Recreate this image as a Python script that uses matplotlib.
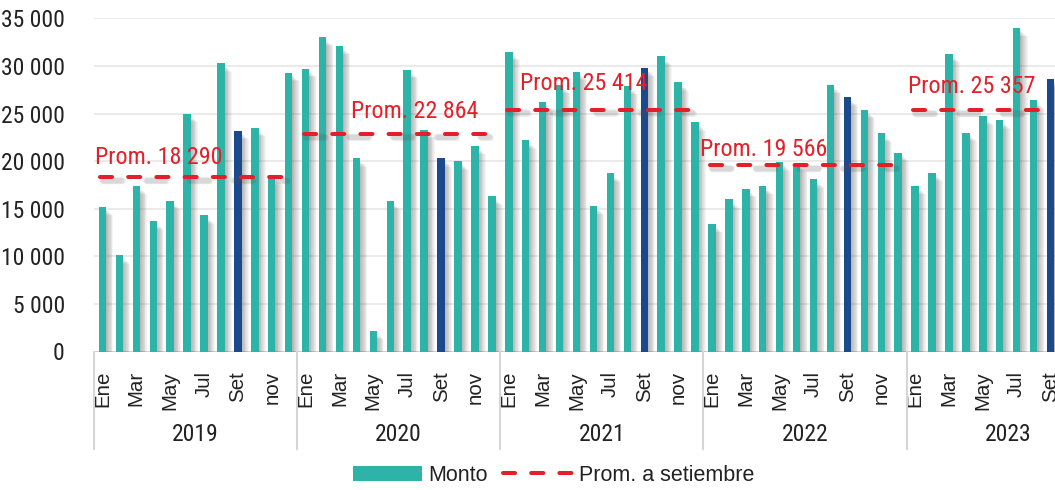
import matplotlib
matplotlib.use('Agg')
import matplotlib.pyplot as plt
import matplotlib.transforms as mtransforms
from matplotlib.patches import Patch
from matplotlib.lines import Line2D

# ---------------- data ----------------
years = ['2019', '2020', '2021', '2022', '2023']
month_names = ['Ene', 'Feb', 'Mar', 'Abr', 'May', 'Jun', 'Jul', 'Ago', 'Set', 'Oct', 'nov', 'Dic']
month_ticks = ['Ene', 'Mar', 'May', 'Jul', 'Set', 'nov']

monto_2019 = [15200, 10100, 17400, 13700, 15800, 25000, 14300, 30300, 23200, 23500, 18400, 29300]
monto_2020 = [29700, 33000, 32100, 20300, 2200, 15800, 29600, 23300, 20300, 20000, 21600, 16300]
monto_2021 = [31500, 22200, 26200, 28000, 29400, 15300, 18700, 27900, 29800, 31000, 28300, 24100]
monto_2022 = [13400, 16000, 17100, 17400, 19900, 19700, 18100, 28000, 26700, 25400, 22900, 20900]
monto_2023 = [17400, 18800, 31300, 23000, 24700, 24300, 34000, 26400, 28600]

prom_values = [18290, 22864, 25414, 19566, 25357]
prom_labels = ['Prom. 18 290', 'Prom. 22 864', 'Prom. 25 414', 'Prom. 19 566', 'Prom. 25 357']

legend_labels = ['Monto', 'Prom. a setiembre']

# ---------------- style ----------------
TEAL = '#2EB3A8'
NAVY = '#1B4A8C'
RED = '#E3202A'
NARROW = ['Liberation Sans Narrow', 'Roboto Condensed', 'DejaVu Sans Condensed', 'DejaVu Sans']
REG = ['Liberation Sans', 'DejaVu Sans']
DASH = (3.0, 4.0)

series = [monto_2019, monto_2020, monto_2021, monto_2022, monto_2023]
values = [v for s in series for v in s]
xs = list(range(len(values)))
colors = [NAVY if (i % 12) == 8 else TEAL for i in xs]

fig = plt.figure(figsize=(10.55, 4.9), dpi=100)
ax = fig.add_axes([94 / 1055, (490 - 351.5) / 490, (1055 - 94) / 1055, 333.2 / 490])
ax.set_xlim(-0.5, -0.5 + 961 / 16.93)
ax.set_ylim(0, 35000)

# grid
for spine in ax.spines.values():
    spine.set_visible(False)
ax.set_yticks(range(0, 35001, 5000))
ax.yaxis.grid(True, color='#e8e8e8', lw=1.3, zorder=0)
ax.set_axisbelow(True)
ax.axhline(0, color='#d2d2d2', lw=1.4, zorder=1)

# bar shadows (soft, offset to the right)
bw = 0.44
for k in range(0, 9):
    ax.bar([x + 0.05 * k + 0.02 for x in xs], [max(v - 250 - 80 * k, 0) for v in values],
           width=bw, color='#4a4a4a', alpha=0.055, lw=0, zorder=2)
# bars
ax.bar(xs, values, width=bw, color=colors, lw=0, zorder=3)

# average lines
for j, (pv, lab) in enumerate(zip(prom_values, prom_labels)):
    start = 12 * j
    x0 = start - 0.12
    x1 = start + (10.75 if j < 4 else 7.45)
    for k in range(3):
        ax.plot([x0 + 0.1 + 0.05 * k, x1 + 0.1 + 0.05 * k], [pv - 300 - 60 * k] * 2,
                color='#555555', alpha=0.08, lw=4.5, dashes=DASH,
                dash_capstyle='round', zorder=4)
    ax.plot([x0, x1], [pv, pv], color=RED, lw=2.9, dashes=DASH,
            dash_capstyle='round', zorder=5)

label_x = [-0.44, 14.68, 24.66, 35.3, 47.58]
label_y = [19695, 24525, 27470, 20535, 27150]
for lx, ly, lab in zip(label_x, label_y, prom_labels):
    ax.text(lx, ly, lab, color=RED, fontsize=17.3, family=NARROW, ha='left', va='baseline', zorder=6)

# y ticks
ax.set_yticklabels([f'{v:,}'.replace(',', ' ') for v in range(0, 35001, 5000)],
                   family=NARROW, fontsize=17, color='#222222')
ax.tick_params(axis='y', length=0, pad=21)

# x ticks (every other month)
tick_pos = [i for i in xs if (i % 12) % 2 == 0]
ax.set_xticks(tick_pos)
ax.set_xticklabels([month_names[i % 12] for i in tick_pos], rotation=90, family=REG,
                   fontsize=14.8, color='#222222')
ax.tick_params(axis='x', length=0, pad=14)

# year group labels and separators
trans = mtransforms.blended_transform_factory(ax.transData, ax.transAxes)
for j, yr in enumerate(years):
    sep = 12 * j - 0.5
    ax.plot([sep, sep], [0, -0.292], transform=trans, color='#d6d6d6', lw=1.5, clip_on=False)
    center = 12 * j + 5.5
    ax.text(center, -0.2506, yr, transform=trans, ha='center', va='center',
            family=NARROW, fontsize=17, color='#222222')

# legend
handles = [Patch(facecolor=TEAL, edgecolor='none'),
           Line2D([0], [0], color=RED, lw=2.9, dashes=DASH, dash_capstyle='round')]
leg = fig.legend(handles, legend_labels, loc='center', bbox_to_anchor=(0.5247, 0.03),
                 ncol=2, frameon=False, prop={'family': REG, 'size': 15.5},
                 handlelength=3.2, handletextpad=0.3, columnspacing=0.7, handleheight=0.7)
for t in leg.get_texts():
    t.set_color('#222222')

fig.savefig('out.png', dpi=100)
